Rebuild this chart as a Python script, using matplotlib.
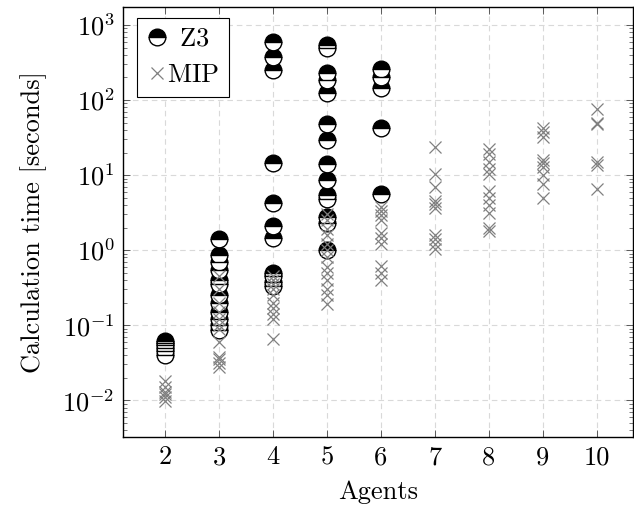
import math
import matplotlib
matplotlib.use("Agg")
import matplotlib.pyplot as plt
from matplotlib.ticker import LogLocator, FixedLocator, FuncFormatter, NullFormatter

plt.rcParams['font.family'] = 'serif'
plt.rcParams['font.serif'] = ['cmr10']
plt.rcParams['mathtext.fontset'] = 'cm'
plt.rcParams['axes.formatter.use_mathtext'] = True

# Z3 calculation times per agent count
z3_agents = [2] * 6 + [3] * 12 + [4] * 11 + [5] * 14 + [6] * 5
z3_times = [0.062, 0.058, 0.055, 0.05, 0.045, 0.04,
            1.4, 0.85, 0.7, 0.55, 0.4, 0.35, 0.25, 0.2, 0.15, 0.12, 0.1, 0.085,
            590, 370, 250, 14.5, 4.2, 2.1, 1.45, 0.5, 0.45, 0.38, 0.33,
            540, 490, 230, 185, 125, 48, 29, 14, 8.5, 5.5, 4.8, 2.8, 2.3, 1.0,
            260, 200, 145, 43, 5.6]

# MIP calculation times per agent count
mip_agents = ([2] * 6 + [3] * 12 + [4] * 10 + [5] * 13 + [6] * 10 + [7] * 10 +
              [8] * 11 + [9] * 9 + [10] * 6)
mip_times = [0.018, 0.015, 0.013, 0.012, 0.011, 0.0098,
             0.45, 0.3, 0.2, 0.15, 0.12, 0.1, 0.09, 0.06, 0.038, 0.035, 0.031, 0.028,
             0.45, 0.4, 0.35, 0.3, 0.25, 0.2, 0.17, 0.14, 0.12, 0.065,
             3.0, 2.5, 1.9, 1.6, 1.2, 1.0, 0.8, 0.6, 0.5, 0.4, 0.3, 0.25, 0.19,
             3.8, 3.3, 2.9, 2.5, 1.7, 1.45, 1.2, 0.62, 0.5, 0.4,
             24, 10.5, 7.0, 4.5, 4.1, 3.7, 1.6, 1.4, 1.2, 1.05,
             22, 19, 15, 12, 10.5, 6.2, 5.0, 4.0, 3.1, 2.0, 1.8,
             42, 37, 32, 16, 14.5, 13, 10, 7.5, 4.9,
             75, 50, 48, 15, 13.5, 6.5]

x_ticks = [2, 3, 4, 5, 6, 7, 8, 9, 10]

FS = 19

fig = plt.figure(figsize=(6.34, 5.08), dpi=100)
ax = fig.add_axes([123 / 634, 1 - 437 / 508, 510 / 634, 430 / 508])

grid_kw = dict(color='#d9d9d9', linestyle=(0, (5, 3.5)), linewidth=0.8)
ax.grid(True, which='major', **grid_kw)
ax.set_axisbelow(True)

ax.plot(z3_agents, z3_times, linestyle='none',
        marker='o', markersize=12, fillstyle='top', markerfacecolor='black',
        markerfacecoloralt='white', markeredgecolor='black', markeredgewidth=1.0,
        label=r'$\;\;$Z3', zorder=3)
ax.plot(mip_agents, mip_times, linestyle='none', marker='x', markersize=8.5,
        color='#808080', markeredgewidth=0.9, label=r'MIP$\;\;\;$', zorder=4)

ax.set_yscale('log')
ax.set_xlim(1.22, 10.67)
ax.set_ylim(10 ** -2.49, 10 ** 3.24)
ax.xaxis.set_major_locator(FixedLocator(x_ticks))
ax.set_xticklabels([str(t) for t in x_ticks])
ax.yaxis.set_major_locator(LogLocator(base=10, numticks=20))
ax.yaxis.set_minor_locator(LogLocator(base=10, subs=range(2, 10), numticks=20))
ax.yaxis.set_minor_formatter(NullFormatter())
ax.yaxis.set_major_formatter(FuncFormatter(lambda v, p: r'$10^{%d}$' % round(math.log10(v))))

ax.tick_params(which='both', direction='in', top=True, right=True, labelsize=FS)
ax.tick_params(which='major', length=5, width=0.6, color='#444444', pad=6)
ax.tick_params(which='minor', length=3, width=0.5, color='#444444')
for s in ax.spines.values():
    s.set_linewidth(1.0)

ax.set_xlabel('Agents', fontsize=FS, labelpad=8)
ax.set_ylabel('Calculation time [seconds]', fontsize=FS, labelpad=11)

leg = ax.legend(loc='upper left', fontsize=FS, frameon=True, fancybox=False,
                edgecolor='black', framealpha=1, handlelength=0.8,
                handletextpad=0.0, borderpad=0.36, labelspacing=0.48,
                borderaxespad=0, bbox_to_anchor=(0.027, 0.975))
leg.get_frame().set_linewidth(0.8)

fig.savefig('out.png', dpi=100)
